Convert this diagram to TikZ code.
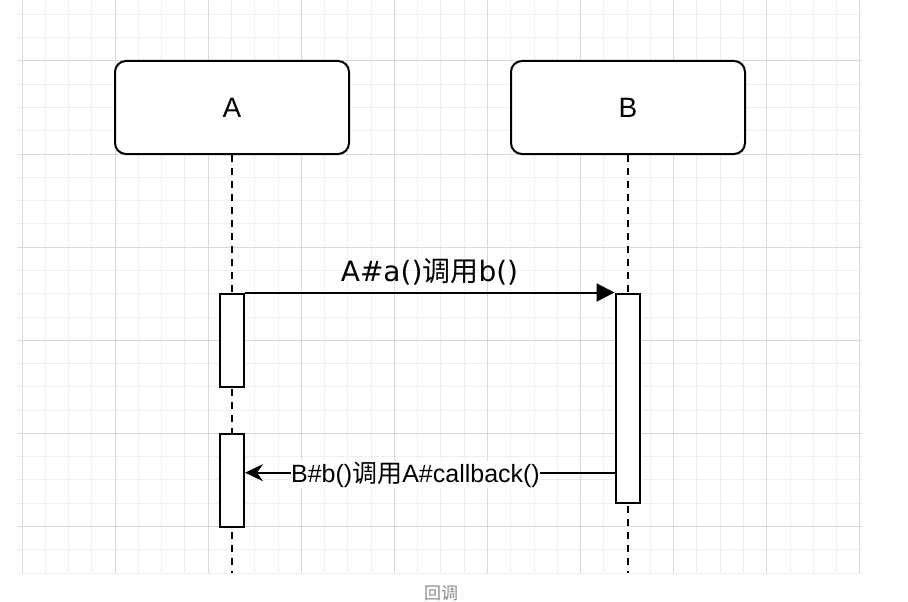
\documentclass[tikz,border=0pt]{standalone}
\usepackage{fontspec}
\setmainfont{Liberation Sans}
\newfontfamily\cjk{Noto Sans CJK SC}
\newfontfamily\dejavu{DejaVu Sans}
\usetikzlibrary{arrows.meta}
\definecolor{minorgrid}{HTML}{EFEFEF}
\definecolor{majorgrid}{HTML}{D9D9D9}
\definecolor{captiongray}{HTML}{8C8C8C}
\tikzset{
  lifebox/.style={draw, line width=2pt, rounded corners=11pt, minimum width=234pt, minimum height=93pt, fill=white, inner sep=0pt, font=\fontsize{28}{32}\selectfont},
  actbox/.style={draw, line width=2pt, fill=white, minimum width=24pt, inner sep=0pt},
  lifeline/.style={line width=2pt, dash pattern=on 7pt off 6pt},
  msg/.style={line width=2pt},
  minorline/.style={draw=minorgrid, line width=1pt},
  majorline/.style={draw=majorgrid, line width=1pt}
}
\begin{document}
\begin{tikzpicture}[x=1pt,y=-1pt]
\useasboundingbox (0,0) rectangle (908,602);
\fill[white] (0,0) rectangle (908,602);
% grid
\begin{scope}
\clip (17,0) rectangle (862,573);
\foreach \i in {-1,...,36} \draw[minorline] ({22+23.275*\i},0) -- ++(0,573);
\foreach \j in {-3,...,22} \draw[minorline] (17,{61+23.275*\j}) -- ++(845,0);
\foreach \i in {0,...,9} \draw[majorline] ({22+93.1*\i},0) -- ++(0,573);
\foreach \j in {0,...,5} \draw[majorline] (17,{61+93.1*\j}) -- ++(845,0);
\end{scope}
% participants
\node[lifebox] (boxA) at (232,107.5) {A};
\node[lifebox] (boxB) at (628,107.5) {B};
\coordinate (endA) at (232,573);
\coordinate (endB) at (627.5,573);
\draw[lifeline] (boxA.south) -- (endA);
\draw[lifeline] (boxB.south -| endB) -- (endB);
% activations
\node[actbox, minimum height=93pt] (a1) at (232,340) {};
\node[actbox, minimum height=93pt] (a2) at (232,480) {};
\node[actbox, minimum height=209pt] (b1) at (627.5,398.5) {};
% message 1
\draw[msg, -{Triangle[length=18pt,width=18pt]}] (a1.north east) -- (a1.north east -| b1.west);
\node[anchor=base, font=\dejavu\fontsize{28}{32}\selectfont] (l1) at (429.5,281.5) {A\#a(){\cjk 调用}b()};
% message 2
\coordinate (m2) at (627.5,472.7);
\draw[msg, -{Stealth[length=18pt,width=17pt,inset=6pt]}] (b1.west |- m2) -- (a2.east |- m2);
\node[anchor=base, fill=white, inner sep=0.5pt, font=\fontsize{25}{30}\selectfont] (l2) at (415.5,482) {B\#b(){\cjk 调用}A\#callback()};
% caption
\node[text=captiongray, font=\cjk\fontsize{17}{20}\selectfont] (cap) at (441,593) {回调};
\end{tikzpicture}
\end{document}
